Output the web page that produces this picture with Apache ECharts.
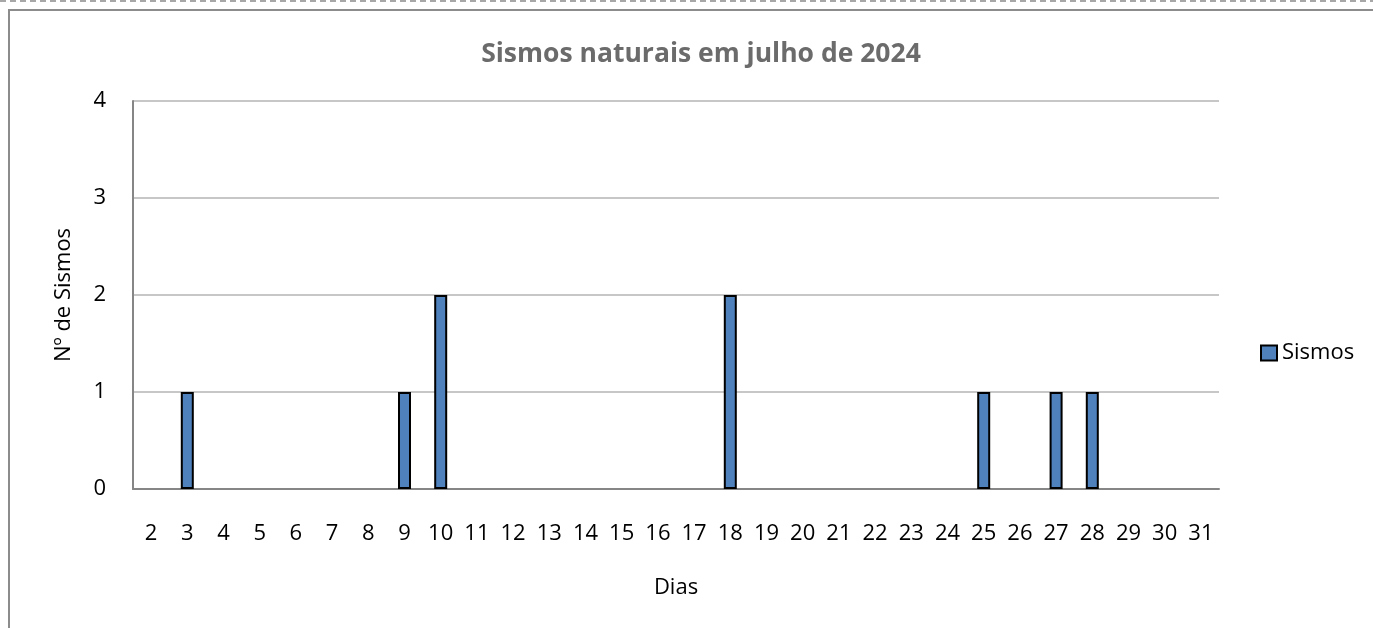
<!DOCTYPE html>
<html>
<head>
<meta charset="utf-8">
<script src="https://cdn.jsdelivr.net/npm/echarts@6/dist/echarts.min.js"></script>
<style>
    html, body { margin: 0; padding: 0; background: #fff; }
    #chart { width: 1373px; height: 628px; }
</style>
</head>
<body>
<div id="chart"></div>
<script>
// dias de julho (eixo x) e número de sismos por dia
const dias = ['2', '3', '4', '5', '6', '7', '8', '9', '10', '11', '12', '13', '14', '15', '16',
    '17', '18', '19', '20', '21', '22', '23', '24', '25', '26', '27', '28', '29', '30', '31'];
const sismos = [0, 1, 0, 0, 0, 0, 0, 1, 2, 0, 0, 0, 0, 0, 0,
    0, 2, 0, 0, 0, 0, 0, 0, 1, 0, 1, 1, 0, 0, 0];
const yTicks = [0, 1, 2, 3, 4];

const fontFamily = 'Open Sans, Noto Sans, sans-serif';
const myChart = echarts.init(document.getElementById('chart'));

// barras com valor 0 não desenham contorno
const barData = sismos.map(v => v === 0 ? { value: v, itemStyle: { borderWidth: 0 } } : v);

const option = {
    animation: false,
    textStyle: { fontFamily: fontFamily },
    title: {
        text: 'Sismos naturais em julho de 2024',
        left: 696,
        top: 36,
        textAlign: 'center',
        textStyle: { fontSize: 26.5, fontWeight: 'bold', color: '#6b6b6b', fontFamily: fontFamily }
    },
    graphic: [
        {
            type: 'line',
            shape: { x1: 0, y1: 1, x2: 1373, y2: 1 },
            style: { stroke: '#8a8a8a', lineWidth: 1.5, lineDash: [6, 4] }
        },
        {
            type: 'rect',
            shape: { x: 9, y: 10, width: 1400, height: 700 },
            style: { fill: 'none', stroke: '#8c8c8c', lineWidth: 2 }
        }
    ],
    legend: {
        left: 1255,
        top: 337,
        itemWidth: 16,
        itemHeight: 15,
        textStyle: { fontSize: 22, color: '#000', fontFamily: fontFamily },
        data: [{ name: 'Sismos', icon: 'rect' }]
    },
    grid: {
        left: 133,
        top: 101,
        width: 1086,
        height: 388,
        containLabel: false
    },
    xAxis: {
        type: 'category',
        data: dias,
        name: 'Dias',
        nameLocation: 'middle',
        nameGap: 88,
        nameTextStyle: { fontSize: 22, color: '#000' },
        axisLine: { show: true, lineStyle: { color: '#868686', width: 2 } },
        axisTick: { show: false },
        axisLabel: { color: '#000', fontSize: 22, margin: 34, interval: 0 }
    },
    yAxis: {
        type: 'value',
        min: yTicks[0],
        max: yTicks[yTicks.length - 1],
        interval: 1,
        name: 'Nº de Sismos',
        nameLocation: 'middle',
        nameGap: 58,
        nameTextStyle: { fontSize: 22, color: '#000' },
        axisLine: { show: true, lineStyle: { color: '#868686', width: 2 } },
        axisTick: { show: false },
        axisLabel: { color: '#000', fontSize: 22, margin: 27 },
        splitLine: { show: true, lineStyle: { color: '#b4b4b4', width: 1.5 } }
    },
    series: [
        {
            name: 'Sismos',
            type: 'bar',
            data: barData,
            barWidth: 13,
            itemStyle: {
                color: '#4f81bd',
                borderColor: '#000',
                borderWidth: 2
            }
        }
    ]
};

myChart.setOption(option, true);
window.addEventListener('resize', () => {
    myChart.resize();
});
</script>
</body>
</html>
